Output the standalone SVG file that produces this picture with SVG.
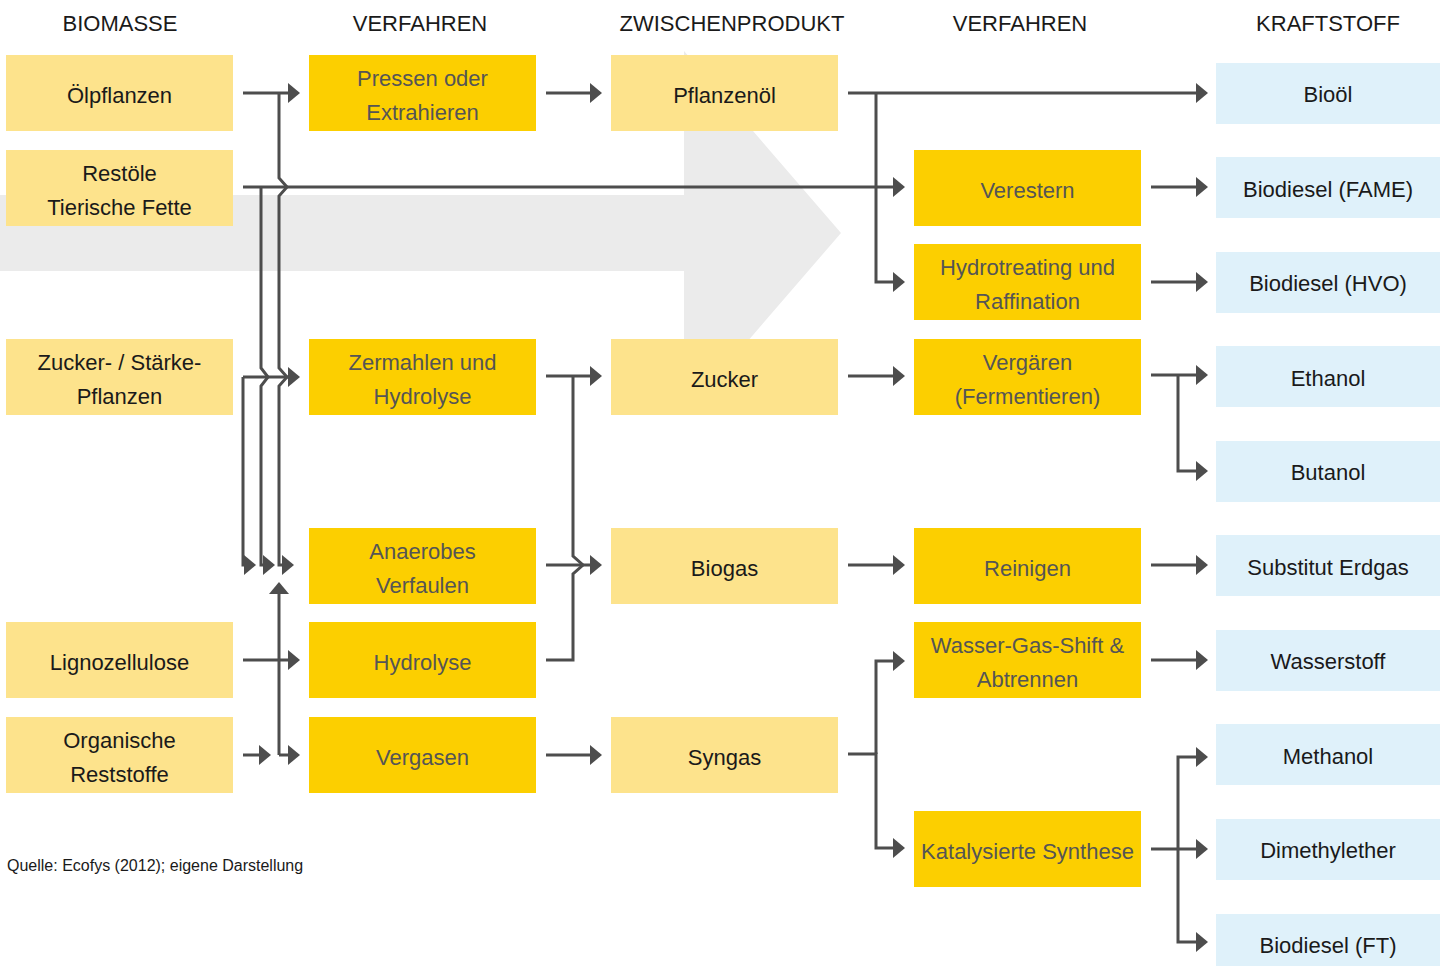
<svg xmlns="http://www.w3.org/2000/svg" width="1443" height="966" viewBox="0 0 1443 966">
<defs>
<style>
.lb{fill:#fde38c}
.db{fill:#fccf00}
.bb{fill:#dff1fa}
text{font-family:"Liberation Sans",Arial,sans-serif;font-size:22px;text-anchor:middle;fill:#1a1a1a}
.td{fill:#555555}
.hdr{fill:#1a1a1a}
.src{font-size:16px;text-anchor:start}
.c path{fill:none;stroke:#4d4d4d;stroke-width:3;stroke-linejoin:miter;stroke-linecap:butt}
.c path.a{marker-end:url(#ah)}
</style>
<marker id="ah" markerUnits="userSpaceOnUse" viewBox="0 0 12 20" markerWidth="12" markerHeight="20" refX="8" refY="10" orient="auto">
<path d="M0,0 L12,10 L0,20 z" fill="#4d4d4d"/>
</marker>
</defs>
<rect width="1443" height="966" fill="#ffffff"/>
<polygon id="bigarrow" points="0,195 684,195 684,51 841,233 684,415 684,271 0,271" fill="#ebebeb"/>

<g id="headers">
<text class="hdr" x="120" y="31">BIOMASSE</text>
<text class="hdr" x="420" y="31">VERFAHREN</text>
<text class="hdr" x="732" y="31">ZWISCHENPRODUKT</text>
<text class="hdr" x="1020" y="31">VERFAHREN</text>
<text class="hdr" x="1328" y="31">KRAFTSTOFF</text>
</g>

<g id="n-oelpflanzen"><rect class="lb" x="6" y="55" width="227" height="76"/><text x="119.5" y="103">Ölpflanzen</text></g>
<g id="n-restoele"><rect class="lb" x="6" y="150" width="227" height="76"/><text x="119.5" y="181">Restöle</text><text x="119.5" y="215">Tierische Fette</text></g>
<g id="n-zucker-staerke"><rect class="lb" x="6" y="339" width="227" height="76"/><text x="119.5" y="370">Zucker- / Stärke-</text><text x="119.5" y="404">Pflanzen</text></g>
<g id="n-lignozellulose"><rect class="lb" x="6" y="622" width="227" height="76"/><text x="119.5" y="670">Lignozellulose</text></g>
<g id="n-organische"><rect class="lb" x="6" y="717" width="227" height="76"/><text x="119.5" y="748">Organische</text><text x="119.5" y="782">Reststoffe</text></g>

<g id="n-pressen"><rect class="db" x="309" y="55" width="227" height="76"/><text class="td" x="422.5" y="86">Pressen oder</text><text class="td" x="422.5" y="120">Extrahieren</text></g>
<g id="n-zermahlen"><rect class="db" x="309" y="339" width="227" height="76"/><text class="td" x="422.5" y="370">Zermahlen und</text><text class="td" x="422.5" y="404">Hydrolyse</text></g>
<g id="n-anaerobes"><rect class="db" x="309" y="528" width="227" height="76"/><text class="td" x="422.5" y="559">Anaerobes</text><text class="td" x="422.5" y="593">Verfaulen</text></g>
<g id="n-hydrolyse"><rect class="db" x="309" y="622" width="227" height="76"/><text class="td" x="422.5" y="670">Hydrolyse</text></g>
<g id="n-vergasen"><rect class="db" x="309" y="717" width="227" height="76"/><text class="td" x="422.5" y="765">Vergasen</text></g>

<g id="n-pflanzenoel"><rect class="lb" x="611" y="55" width="227" height="76"/><text x="724.5" y="103">Pflanzenöl</text></g>
<g id="n-zucker"><rect class="lb" x="611" y="339" width="227" height="76"/><text x="724.5" y="387">Zucker</text></g>
<g id="n-biogas"><rect class="lb" x="611" y="528" width="227" height="76"/><text x="724.5" y="576">Biogas</text></g>
<g id="n-syngas"><rect class="lb" x="611" y="717" width="227" height="76"/><text x="724.5" y="765">Syngas</text></g>

<g id="n-verestern"><rect class="db" x="914" y="150" width="227" height="76"/><text class="td" x="1027.5" y="198">Verestern</text></g>
<g id="n-hydrotreating"><rect class="db" x="914" y="244" width="227" height="76"/><text class="td" x="1027.5" y="275">Hydrotreating und</text><text class="td" x="1027.5" y="309">Raffination</text></g>
<g id="n-vergaeren"><rect class="db" x="914" y="339" width="227" height="76"/><text class="td" x="1027.5" y="370">Vergären</text><text class="td" x="1027.5" y="404">(Fermentieren)</text></g>
<g id="n-reinigen"><rect class="db" x="914" y="528" width="227" height="76"/><text class="td" x="1027.5" y="576">Reinigen</text></g>
<g id="n-wassergas"><rect class="db" x="914" y="622" width="227" height="76"/><text class="td" x="1027.5" y="653">Wasser-Gas-Shift &amp;</text><text class="td" x="1027.5" y="687">Abtrennen</text></g>
<g id="n-katalysierte"><rect class="db" x="914" y="811" width="227" height="76"/><text class="td" x="1027.5" y="859">Katalysierte Synthese</text></g>

<g id="n-biooel"><rect class="bb" x="1216" y="63" width="224" height="61"/><text x="1328" y="102">Bioöl</text></g>
<g id="n-fame"><rect class="bb" x="1216" y="157" width="224" height="61"/><text x="1328" y="197">Biodiesel (FAME)</text></g>
<g id="n-hvo"><rect class="bb" x="1216" y="252" width="224" height="61"/><text x="1328" y="291">Biodiesel (HVO)</text></g>
<g id="n-ethanol"><rect class="bb" x="1216" y="346" width="224" height="61"/><text x="1328" y="386">Ethanol</text></g>
<g id="n-butanol"><rect class="bb" x="1216" y="441" width="224" height="61"/><text x="1328" y="480">Butanol</text></g>
<g id="n-substitut"><rect class="bb" x="1216" y="535" width="224" height="61"/><text x="1328" y="575">Substitut Erdgas</text></g>
<g id="n-wasserstoff"><rect class="bb" x="1216" y="630" width="224" height="61"/><text x="1328" y="669">Wasserstoff</text></g>
<g id="n-methanol"><rect class="bb" x="1216" y="724" width="224" height="61"/><text x="1328" y="764">Methanol</text></g>
<g id="n-dimethylether"><rect class="bb" x="1216" y="819" width="224" height="61"/><text x="1328" y="858">Dimethylether</text></g>
<g id="n-biodieselft"><rect class="bb" x="1216" y="914" width="224" height="61"/><text x="1328" y="953">Biodiesel (FT)</text></g>

<g id="connectors" class="c">
<path class="a" d="M243,93 H296"/>
<path class="a" d="M279,93 V178 L287,187 L279,196 V368 L287,377 L279,386 V565 H290"/>
<path class="a" d="M243,187 H901"/>
<path class="a" d="M261,187 V368 L268,377 L261,386 V565 H271"/>
<path class="a" d="M243,377 H296"/>
<path class="a" d="M243,377 V565 H252"/>
<path class="a" d="M243,660 H296"/>
<path class="a" d="M243,755 H267"/>
<path class="a" d="M279,755 V586"/>
<path class="a" d="M279,755 H296"/>

<path class="a" d="M546,93 H598"/>
<path class="a" d="M546,376 H598"/>
<path d="M546,660 H573 V574 L583,565 L573,556 V376"/>
<path class="a" d="M546,565 H598"/>
<path class="a" d="M546,755 H598"/>

<path class="a" d="M848,93 H1204"/>
<path class="a" d="M876,93 V282 H901"/>
<path class="a" d="M848,376 H901"/>
<path class="a" d="M848,565 H901"/>
<path class="a" d="M876,754 V661 H901"/>
<path class="a" d="M848,754 H876 V848 H901"/>

<path class="a" d="M1151,187 H1204"/>
<path class="a" d="M1151,282 H1204"/>
<path class="a" d="M1151,375 H1204"/>
<path class="a" d="M1178,375 V471 H1204"/>
<path class="a" d="M1151,565 H1204"/>
<path class="a" d="M1151,660 H1204"/>
<path class="a" d="M1151,849 H1204"/>
<path class="a" d="M1178,849 V757 H1204"/>
<path class="a" d="M1178,849 V942 H1204"/>
</g>

<text class="src" x="7" y="871">Quelle: Ecofys (2012); eigene Darstellung</text>
</svg>
